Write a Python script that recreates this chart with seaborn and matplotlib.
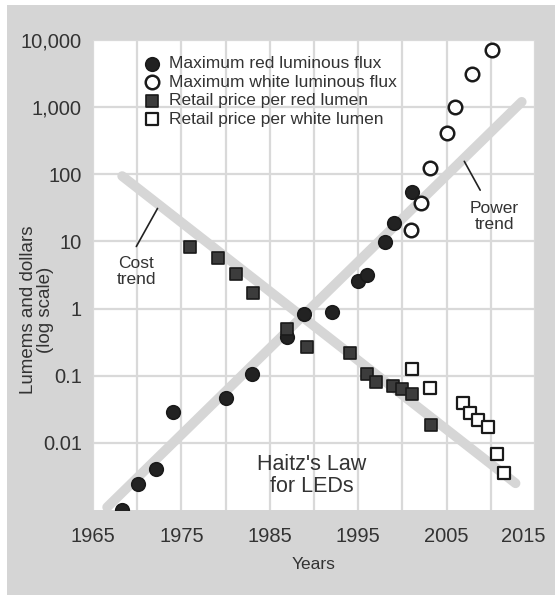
import matplotlib
matplotlib.use("Agg")
import matplotlib.pyplot as plt
from matplotlib.patches import Rectangle
from matplotlib.transforms import ScaledTranslation
from matplotlib.ticker import FixedLocator, FixedFormatter, NullFormatter
import seaborn as sns

# Maximum red luminous flux (lumens)
red_flux_year = [1968.3, 1970.1, 1972.1, 1974.1, 1980.1, 1983.0, 1987.0, 1988.9,
                 1992.0, 1995.0, 1996.0, 1998.0, 1999.0, 2001.1]
red_flux = [0.001, 0.0024, 0.0041, 0.029, 0.047, 0.107, 0.38, 0.84,
            0.9, 2.6, 3.2, 9.7, 19, 54]

# Maximum white luminous flux (lumens)
white_flux_year = [2001.0, 2002.1, 2003.1, 2005.0, 2005.9, 2007.9, 2010.1]
white_flux = [14.6, 38, 123, 410, 1000, 3100, 7000]

# Retail price per red lumen (dollars)
red_price_year = [1976.0, 1979.1, 1981.2, 1983.1, 1987.0, 1989.2, 1994.1, 1996.0,
                  1997.0, 1998.9, 1999.9, 2001.1, 2003.2]
red_price = [8.4, 5.6, 3.3, 1.7, 0.5, 0.27, 0.22, 0.107,
             0.081, 0.071, 0.064, 0.054, 0.0186]

# Retail price per white lumen (dollars)
white_price_year = [2001.1, 2003.1, 2006.8, 2007.6, 2008.5, 2009.7, 2010.7, 2011.5]
white_price = [0.127, 0.066, 0.039, 0.028, 0.022, 0.017, 0.0068, 0.0036]

# Trend lines (end points)
cost_trend_year = [1968.3, 2012.8]
cost_trend = [94, 0.0025]
power_trend_year = [1966.6, 2013.5]
power_trend = [0.0011, 1200]

x_ticks = [1965, 1975, 1985, 1995, 2005, 2015]
y_ticks = [0.01, 0.1, 1, 10, 100, 1000, 10000]
y_tick_labels = ["0.01", "0.1", "1", "10", "100", "1,000", "10,000"]

sns.set_theme(style="white")
plt.rcParams["font.family"] = ["Liberation Sans", "DejaVu Sans"]

TEXT = "#333333"
BG = "#d5d5d5"
GRID = "#d9d9d9"
TREND = "#d6d6d6"

fig = plt.figure(figsize=(5.55, 5.95), dpi=100)
fig.patch.set_facecolor("white")
fig.patches.append(Rectangle((7 / 555, 0), 1 - 7 / 555, 590 / 595,
                             transform=fig.transFigure, facecolor=BG,
                             edgecolor="none", zorder=-10))

ax = fig.add_axes([93 / 555, 85 / 595, 442 / 555, 470 / 595])
ax.set_facecolor("white")
ax.set_yscale("log")
ax.set_xlim(1965, 2015)
ax.set_ylim(0.001, 10000)

# trend lines
for xs, ys in [(cost_trend_year, cost_trend), (power_trend_year, power_trend)]:
    sns.lineplot(x=xs, y=ys, ax=ax, color=TREND, linewidth=7,
                 solid_capstyle="round", zorder=2)

ms = 95
sns.scatterplot(x=red_flux_year, y=red_flux, ax=ax, marker="o", s=ms,
                color="#222222", edgecolor="#1a1a1a", linewidth=1.2,
                label="Maximum red luminous flux", zorder=4)
sns.scatterplot(x=white_flux_year, y=white_flux, ax=ax, marker="o", s=ms,
                facecolor="white", edgecolor="#1a1a1a", linewidth=1.8,
                label="Maximum white luminous flux", zorder=4)
sns.scatterplot(x=red_price_year, y=red_price, ax=ax, marker="s", s=ms - 10,
                color="#3c3c3c", edgecolor="#1a1a1a", linewidth=1.2,
                label="Retail price per red lumen", zorder=4)
sns.scatterplot(x=white_price_year, y=white_price, ax=ax, marker="s", s=ms - 10,
                facecolor="white", edgecolor="#1a1a1a", linewidth=1.6,
                label="Retail price per white lumen", zorder=4)

# ticks and grid
ax.xaxis.set_major_locator(FixedLocator(x_ticks))
ax.xaxis.set_minor_locator(FixedLocator([1970, 1980, 1990, 2000, 2010]))
ax.yaxis.set_major_locator(FixedLocator(y_ticks))
ax.yaxis.set_major_formatter(FixedFormatter(y_tick_labels))
ax.yaxis.set_minor_locator(FixedLocator([]))
ax.yaxis.set_minor_formatter(NullFormatter())
ax.grid(True, which="both", color=GRID, linewidth=1.6, zorder=0)
ax.set_axisbelow(True)
ax.tick_params(axis="both", which="both", length=0, labelsize=14.5, colors=TEXT)
ax.tick_params(axis="x", pad=12)
ax.tick_params(axis="y", pad=8)
for s in ax.spines.values():
    s.set_visible(False)

# keep the last year label inside the panel
last = ax.xaxis.get_major_ticks()[-1].label1
last.set_transform(last.get_transform() +
                   ScaledTranslation(-0.12, 0, fig.dpi_scale_trans))

ax.set_xlabel("Years", fontsize=12.5, color=TEXT, labelpad=8)
ax.set_ylabel("Lumems and dollars\n(log scale)", fontsize=13.5, color=TEXT,
              linespacing=1.0)
ax.yaxis.set_label_coords(-0.088, 0.425)

# annotations
ax.text(1969.9, 3.57, "Cost\ntrend", ha="center", va="center", fontsize=12.5,
        color=TEXT, linespacing=1.05)
sns.lineplot(x=[1969.9, 1972.3], y=[8.4, 31], ax=ax, color="#222222",
             linewidth=1.2, zorder=3)
ax.text(2010.4, 23.6, "Power\ntrend", ha="center", va="center", fontsize=12.5,
        color=TEXT, linespacing=1.05)
sns.lineplot(x=[2007.0, 2008.8], y=[156, 58], ax=ax, color="#222222",
             linewidth=1.2, zorder=3)
ax.text(1989.7, 0.0033, "Haitz's Law\nfor LEDs", ha="center", va="center",
        fontsize=15.5, color=TEXT, linespacing=1.05)

leg = ax.legend(loc="upper left", bbox_to_anchor=(0.114, 0.966), frameon=False,
                fontsize=12.5, handlelength=1.0, handletextpad=0.45,
                labelspacing=0.2, borderpad=0, borderaxespad=0)
for t in leg.get_texts():
    t.set_color(TEXT)

fig.savefig("out.png", dpi=100, facecolor=fig.get_facecolor())
